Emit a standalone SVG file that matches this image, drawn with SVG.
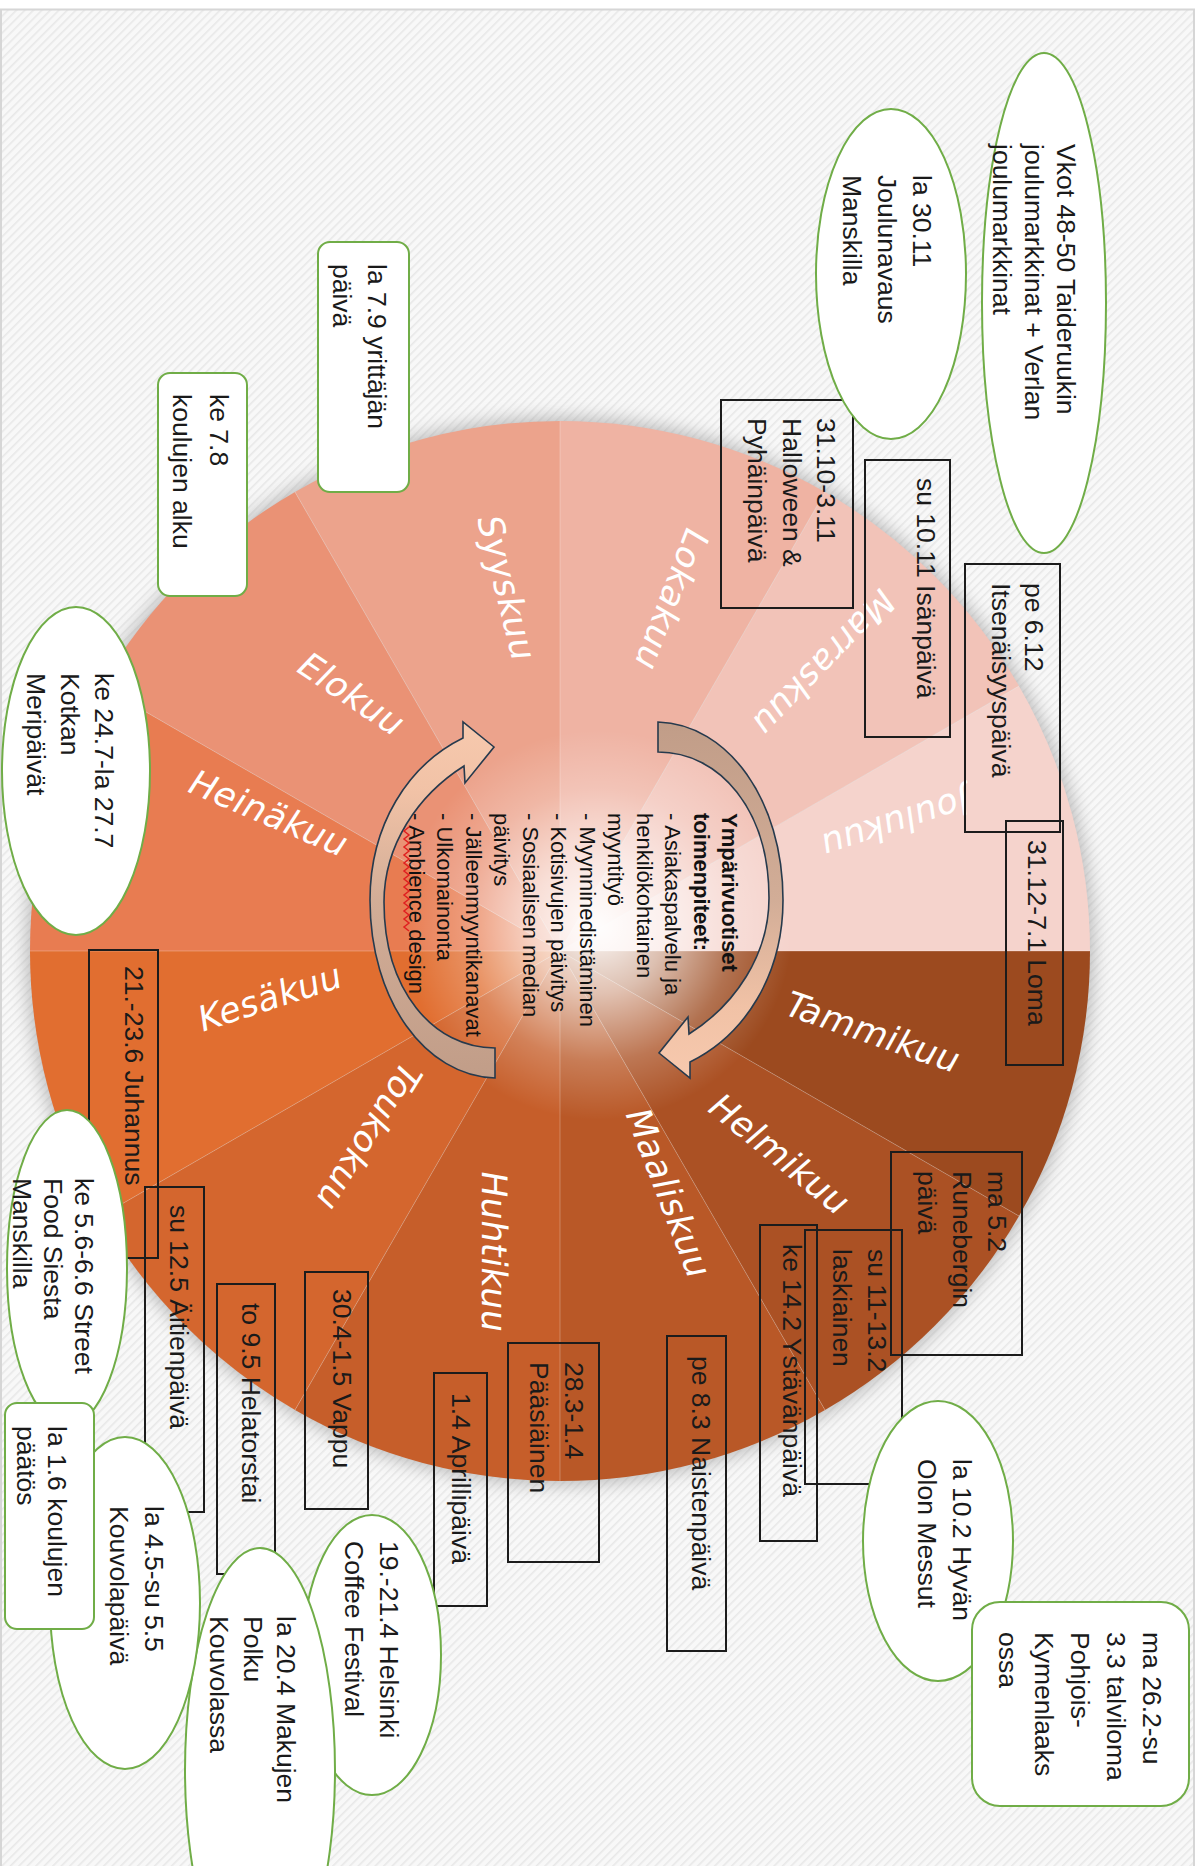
<svg xmlns="http://www.w3.org/2000/svg" width="1202" height="1866" viewBox="0 0 1202 1866">
<defs>
<style>
.box{fill:none;stroke:#1c1c1c;stroke-width:2}
.ell{fill:#fff;stroke:#70ad47;stroke-width:2}
.t{font-family:"Liberation Sans",Arial,sans-serif;font-size:26.5px;fill:#1a1a1a}
.m{font-family:"DejaVu Sans",Verdana,sans-serif;font-size:35px;fill:#fff;letter-spacing:0.5px;text-anchor:middle;dominant-baseline:central}
.c{font-family:"Liberation Sans",Arial,sans-serif;font-size:22px;fill:#111}
.div{stroke:#fff;stroke-opacity:.25;stroke-width:1}
.arr{fill:url(#arrG);stroke:#263a4d;stroke-width:1.6}
</style>
<pattern id="hatch" width="6" height="6" patternUnits="userSpaceOnUse" patternTransform="rotate(45)">
<rect width="6" height="6" fill="#f8f8f8"/>
<rect width="1.6" height="6" fill="#e8e8e8"/>
</pattern>
<filter id="blur" x="-20%" y="-20%" width="140%" height="140%"><feGaussianBlur stdDeviation="9"/></filter>
<radialGradient id="glow" cx="598" cy="925" r="195" gradientUnits="userSpaceOnUse">
<stop offset="0" stop-color="#fff" stop-opacity=".97"/>
<stop offset=".35" stop-color="#fff" stop-opacity=".65"/>
<stop offset=".7" stop-color="#fff" stop-opacity=".22"/>
<stop offset="1" stop-color="#fff" stop-opacity="0"/>
</radialGradient>
<linearGradient id="arrG" x1="0" y1="0" x2="0" y2="1">
<stop offset="0" stop-color="#c19d88"/>
<stop offset=".5" stop-color="#d2ad97"/>
<stop offset=".8" stop-color="#f1c2a6"/>
<stop offset="1" stop-color="#f7c9ae"/>
</linearGradient>
</defs>

<rect x="0" y="0" width="1202" height="1866" fill="#fff"/>
<rect x="1" y="9.5" width="1193" height="1858" fill="url(#hatch)" stroke="#d6d6d6" stroke-width="2"/>

<g id="wheel">
<circle cx="560" cy="951" r="534" fill="#8a8a8a" opacity=".55" filter="url(#blur)"/>
<path id="seg-tammikuu" d="M560,951 L1090,951 A530,530 0 0 1 1019,1216 Z" fill="#9c4a1f"/>
<path id="seg-helmikuu" d="M560,951 L1019,1216 A530,530 0 0 1 825,1410 Z" fill="#ab5124"/>
<path id="seg-maaliskuu" d="M560,951 L825,1410 A530,530 0 0 1 560,1481 Z" fill="#b95827"/>
<path id="seg-huhtikuu" d="M560,951 L560,1481 A530,530 0 0 1 295,1410 Z" fill="#c65e2a"/>
<path id="seg-toukokuu" d="M560,951 L295,1410 A530,530 0 0 1 101,1216 Z" fill="#d4662e"/>
<path id="seg-kesakuu" d="M560,951 L101,1216 A530,530 0 0 1 30,951 Z" fill="#e16e30"/>
<path id="seg-heinakuu" d="M560,951 L30,951 A530,530 0 0 1 101,686 Z" fill="#e87c51"/>
<path id="seg-elokuu" d="M560,951 L101,686 A530,530 0 0 1 295,492 Z" fill="#ea9275"/>
<path id="seg-syyskuu" d="M560,951 L295,492 A530,530 0 0 1 560,421 Z" fill="#eca38c"/>
<path id="seg-lokakuu" d="M560,951 L560,421 A530,530 0 0 1 825,492 Z" fill="#efb3a3"/>
<path id="seg-marraskuu" d="M560,951 L825,492 A530,530 0 0 1 1019,686 Z" fill="#f2c3b8"/>
<path id="seg-joulukuu" d="M560,951 L1019,686 A530,530 0 0 1 1090,951 Z" fill="#f5d3cc"/>
<g class="div">
<line x1="560" y1="951" x2="1090" y2="951"/><line x1="560" y1="951" x2="1019" y2="1216"/>
<line x1="560" y1="951" x2="825" y2="1410"/><line x1="560" y1="951" x2="560" y2="1481"/>
<line x1="560" y1="951" x2="295" y2="1410"/><line x1="560" y1="951" x2="101" y2="1216"/>
<line x1="560" y1="951" x2="30" y2="951"/><line x1="560" y1="951" x2="101" y2="686"/>
<line x1="560" y1="951" x2="295" y2="492"/><line x1="560" y1="951" x2="560" y2="421"/>
<line x1="560" y1="951" x2="825" y2="492"/><line x1="560" y1="951" x2="1019" y2="686"/>
</g>
<circle cx="560" cy="951" r="530" fill="url(#glow)"/>
</g>

<g id="month-labels">
<text class="m" transform="translate(873,1032) rotate(19) skewX(-10)">Tammikuu</text>
<text class="m" transform="translate(780,1154) rotate(39) skewX(-10)">Helmikuu</text>
<text class="m" transform="translate(669,1193) rotate(69) skewX(-10)">Maaliskuu</text>
<text class="m" transform="translate(494,1252) rotate(90) skewX(-10)">Huhtikuu</text>
<text class="m" transform="translate(369,1137) rotate(122) skewX(-10)">Toukokuu</text>
<text class="m" transform="translate(270,997) rotate(-18) skewX(-10)">Kesäkuu</text>
<text class="m" transform="translate(269,813) rotate(23) skewX(-10)">Heinäkuu</text>
<text class="m" transform="translate(352,694) rotate(34) skewX(-10)">Elokuu</text>
<text class="m" transform="translate(507,588) rotate(76) skewX(-10)">Syyskuu</text>
<text class="m" transform="translate(672,600) rotate(111) skewX(-10)">Lokakuu</text>
<text class="m" transform="translate(824,663) rotate(134) skewX(-10)">Marraskuu</text>
<text class="m" transform="translate(895,824) rotate(162) skewX(-10)">Joulukuu</text>
</g>

<g id="connectors">
<path id="arrow-right" class="arr" d="M658,722 C728,724 783,800 783,900 C783,975 745,1035 690,1062 L690,1078 L659,1053 L688,1017 L689,1034 C735,1005 769,955 769,898 C769,810 720,752 658,752 Z"/>
<path id="arrow-left" class="arr" transform="rotate(180 576.5 900)" d="M658,722 C728,724 783,800 783,900 C783,975 745,1035 690,1062 L690,1078 L659,1053 L688,1017 L689,1034 C735,1005 769,955 769,898 C769,810 720,752 658,752 Z"/>
</g>

<g id="center-text">
<text class="c" transform="translate(722,813) rotate(90)">
<tspan x="0" y="0" font-weight="bold">Ympärivuotiset</tspan>
<tspan x="0" dy="28.5" font-weight="bold">toimenpiteet:</tspan>
<tspan x="0" dy="28.5">- Asiakaspalvelu ja</tspan>
<tspan x="0" dy="28.5">henkilökohtainen</tspan>
<tspan x="0" dy="28.5">myyntityö</tspan>
<tspan x="0" dy="28.5">- Myynninedistäminen</tspan>
<tspan x="0" dy="28.5">- Kotisivujen päivitys</tspan>
<tspan x="0" dy="28.5">- Sosiaalisen median</tspan>
<tspan x="0" dy="28.5">päivitys</tspan>
<tspan x="0" dy="28.5">- Jälleenmyyntikanavat</tspan>
<tspan x="0" dy="28.5">- Ulkomainonta</tspan>
<tspan x="0" dy="28.5">- Ambience design</tspan>
</text>
<polyline points="409,827 404,831 409,835 404,839 409,843 404,847 409,851 404,855 409,859 404,863 409,867 404,871 409,875 404,879 409,883 404,887 409,891 404,895 409,899 404,903 409,907 404,911 409,915 404,919 409,923 404,927 409,931" fill="none" stroke="#e02020" stroke-width="1.5"/>
</g>

<g id="boxes">
<g id="n-3110"><rect class="box" x="721" y="400" width="132" height="208"/><text class="t" transform="translate(817,418) rotate(90)"><tspan x="0" y="0">31.10-3.11</tspan><tspan x="0" dy="34.5">Halloween &amp;</tspan><tspan x="0" dy="34.5">Pyhäinpäivä</tspan></text></g>
<g id="n-1011"><rect class="box" x="865" y="460" width="85" height="277"/><text class="t" transform="translate(917,478) rotate(90)">su 10.11 Isänpäivä</text></g>
<g id="n-612"><rect class="box" x="965" y="564" width="95" height="268"/><text class="t" transform="translate(1025,583) rotate(90)"><tspan x="0" y="0">pe 6.12</tspan><tspan x="0" dy="33">Itsenäisyyspäivä</tspan></text></g>
<g id="n-loma"><rect class="box" x="1006" y="821" width="57" height="244"/><text class="t" transform="translate(1028,840) rotate(90)">31.12-7.1 Loma</text></g>
<g id="n-52"><rect class="box" x="891" y="1152" width="131" height="203"/><text class="t" transform="translate(988,1171) rotate(90)"><tspan x="0" y="0">ma 5.2</tspan><tspan x="0" dy="35">Runebergin</tspan><tspan x="0" dy="35">päivä</tspan></text></g>
<g id="n-1113"><rect class="box" x="805" y="1230" width="97" height="254"/><text class="t" transform="translate(868,1249) rotate(90)"><tspan x="0" y="0">su 11-13.2</tspan><tspan x="0" dy="35">laskiainen</tspan></text></g>
<g id="n-142"><rect class="box" x="760" y="1225" width="57" height="316"/><text class="t" transform="translate(783,1244) rotate(90)">ke 14.2 Ystävänpäivä</text></g>
<g id="n-83"><rect class="box" x="667" y="1336" width="59" height="315"/><text class="t" transform="translate(692,1356) rotate(90)">pe 8.3 Naistenpäivä</text></g>
<g id="n-283"><rect class="box" x="508" y="1343" width="91" height="219"/><text class="t" transform="translate(565,1362) rotate(90)"><tspan x="0" y="0">28.3-1.4</tspan><tspan x="0" dy="35">Pääsiäinen</tspan></text></g>
<g id="n-14"><rect class="box" x="434" y="1373" width="53" height="233"/><text class="t" transform="translate(452,1393) rotate(90)">1.4 Aprillipäivä</text></g>
<g id="n-304"><rect class="box" x="305" y="1272" width="63" height="237"/><text class="t" transform="translate(333,1289) rotate(90)">30.4-1.5 Vappu</text></g>
<g id="n-95"><rect class="box" x="217" y="1284" width="58" height="290"/><text class="t" transform="translate(242,1303) rotate(90)">to 9.5 Helatorstai</text></g>
<g id="n-125"><rect class="box" x="145" y="1187" width="59" height="325"/><text class="t" transform="translate(170,1205) rotate(90)">su 12.5 Äitienpäivä</text></g>
<g id="n-juhannus"><rect class="box" x="89" y="950" width="69" height="308"/><text class="t" transform="translate(125,966) rotate(90)">21.-23.6 Juhannus</text></g>
</g>

<g id="events">
<g id="n-vkot"><ellipse class="ell" cx="1044" cy="303" rx="62" ry="250"/><text class="t" font-size="24" transform="translate(1057,144) rotate(90)"><tspan x="0" y="0">Vkot 48-50 Taideruukin</tspan><tspan x="0" dy="32">joulumarkkinat + Verlan</tspan><tspan x="0" dy="32">joulumarkkinat</tspan></text></g>
<g id="n-3011"><ellipse class="ell" cx="891" cy="274" rx="75" ry="165"/><text class="t" transform="translate(913,175) rotate(90)"><tspan x="0" y="0">la 30.11</tspan><tspan x="0" dy="35">Joulunavaus</tspan><tspan x="0" dy="35">Manskilla</tspan></text></g>
<g id="n-247"><ellipse class="ell" cx="76" cy="771" rx="74" ry="164"/><text class="t" transform="translate(95,673) rotate(90)"><tspan x="0" y="0">ke 24.7-la 27.7</tspan><tspan x="0" dy="34">Kotkan</tspan><tspan x="0" dy="34">Meripäivät</tspan></text></g>
<g id="n-102"><ellipse class="ell" cx="938" cy="1541" rx="75" ry="140"/><text class="t" transform="translate(953,1459) rotate(90)"><tspan x="0" y="0">la 10.2 Hyvän</tspan><tspan x="0" dy="35">Olon Messut</tspan></text></g>
<g id="n-coffee"><ellipse class="ell" cx="372" cy="1655" rx="69" ry="140"/><text class="t" transform="translate(380,1541) rotate(90)"><tspan x="0" y="0">19.-21.4 Helsinki</tspan><tspan x="0" dy="35">Coffee Festival</tspan></text></g>
<g id="n-204"><ellipse class="ell" cx="260" cy="1770" rx="75" ry="222"/><text class="t" transform="translate(277,1616) rotate(90)"><tspan x="0" y="0">la 20.4 Makujen</tspan><tspan x="0" dy="33.5">Polku</tspan><tspan x="0" dy="33.5">Kouvolassa</tspan></text></g>
<g id="n-45"><ellipse class="ell" cx="125" cy="1603" rx="75" ry="166"/><text class="t" transform="translate(145,1506) rotate(90)"><tspan x="0" y="0">la 4.5-su 5.5</tspan><tspan x="0" dy="35">Kouvolapäivä</tspan></text></g>
<g id="n-56"><ellipse class="ell" cx="67" cy="1268" rx="60" ry="158"/><text class="t" font-size="25" transform="translate(75,1178) rotate(90)"><tspan x="0" y="0">ke 5.6-6.6 Street</tspan><tspan x="0" dy="31">Food Siesta</tspan><tspan x="0" dy="31">Manskilla</tspan></text></g>
<g id="n-79"><rect class="ell" x="318" y="242" width="91" height="250" rx="12"/><text class="t" transform="translate(368,264) rotate(90)"><tspan x="0" y="0">la 7.9 yrittäjän</tspan><tspan x="0" dy="35">päivä</tspan></text></g>
<g id="n-78"><rect class="ell" x="158" y="373" width="89" height="223" rx="12"/><text class="t" transform="translate(210,394) rotate(90)"><tspan x="0" y="0">ke 7.8</tspan><tspan x="0" dy="37">koulujen alku</tspan></text></g>
<g id="n-16"><rect class="ell" x="5" y="1403" width="89" height="226" rx="12"/><text class="t" transform="translate(48,1426) rotate(90)"><tspan x="0" y="0">la 1.6 koulujen</tspan><tspan x="0" dy="31">päätös</tspan></text></g>
<g id="n-262"><rect class="ell" x="972" y="1602" width="217" height="204" rx="28"/><text class="t" font-size="24.5" transform="translate(1143,1632) rotate(90)"><tspan x="0" y="0">ma 26.2-su</tspan><tspan x="0" dy="36">3.3 talviloma</tspan><tspan x="0" dy="36">Pohjois-</tspan><tspan x="0" dy="36">Kymenlaaks</tspan><tspan x="0" dy="36">ossa</tspan></text></g>
</g>
</svg>
